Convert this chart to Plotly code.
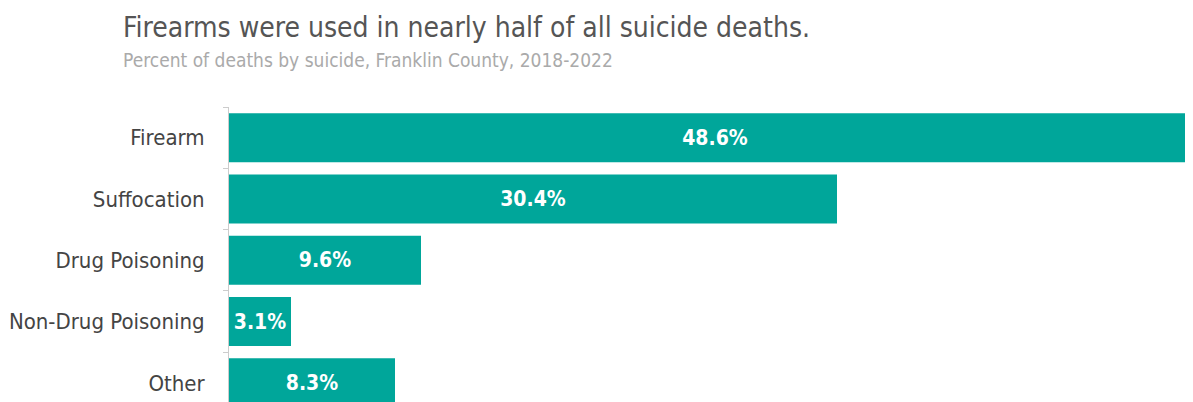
import plotly.graph_objects as go

categories = ["Firearm", "Suffocation", "Drug Poisoning", "Non-Drug Poisoning", "Other"]
values = [48.6, 30.4, 9.6, 3.1, 8.3]
labels = ["48.6%", "30.4%", "9.6%", "3.1%", "8.3%"]

title = "Firearms were used in nearly half of all suicide deaths."
subtitle = "Percent of deaths by suicide, Franklin County, 2018-2022"

FONT = "DejaVu Sans Condensed, Liberation Sans Narrow, Arial Narrow, sans-serif"
# page body has an 8px margin; size the figure to fill the rest of the window
W, H = 1185, 394
ml, mt = 221, 99
ph = H - mt
pw = W - ml

fig = go.Figure(go.Bar(
    y=categories, x=values, orientation="h",
    text=labels, textposition="inside", insidetextanchor="middle", textangle=0,
    textfont=dict(family=FONT, size=21, color="white", weight="bold"),
    marker=dict(color="#00A69A", line=dict(width=0)),
    width=0.8,
    cliponaxis=True,
))

fig.update_layout(
    width=W, height=H,
    margin=dict(l=ml, r=0, t=mt, b=0, pad=0),
    plot_bgcolor="white", paper_bgcolor="white",
    showlegend=False,
    uniformtext=dict(minsize=21, mode="show"),
    font=dict(family=FONT),
    xaxis=dict(range=[0, pw / 20.0], visible=False, showgrid=False, zeroline=False),
    yaxis=dict(
        type="category", categoryorder="array", categoryarray=categories,
        range=[ph / 61.3 - 0.5, -0.5],
        showline=True, linecolor="#cccccc", linewidth=1,
        ticks="outside", tickson="boundaries", ticklen=5, tickcolor="#cccccc",
        ticklabelstandoff=19,
        tickfont=dict(family=FONT, size=22, color="#444444"),
        showgrid=False, zeroline=False,
    ),
    annotations=[
        dict(text=title, xref="paper", yref="paper", x=(113 - ml) / pw, y=(H - 19) / ph,
             xanchor="left", yanchor="middle", showarrow=False,
             font=dict(family=FONT, size=28, color="#555555")),
        dict(text=subtitle, xref="paper", yref="paper", x=(113 - ml) / pw, y=(H - 52) / ph,
             xanchor="left", yanchor="middle", showarrow=False,
             font=dict(family=FONT, size=19, color="#aaaaaa")),
    ],
)

fig.write_html("out.html")
